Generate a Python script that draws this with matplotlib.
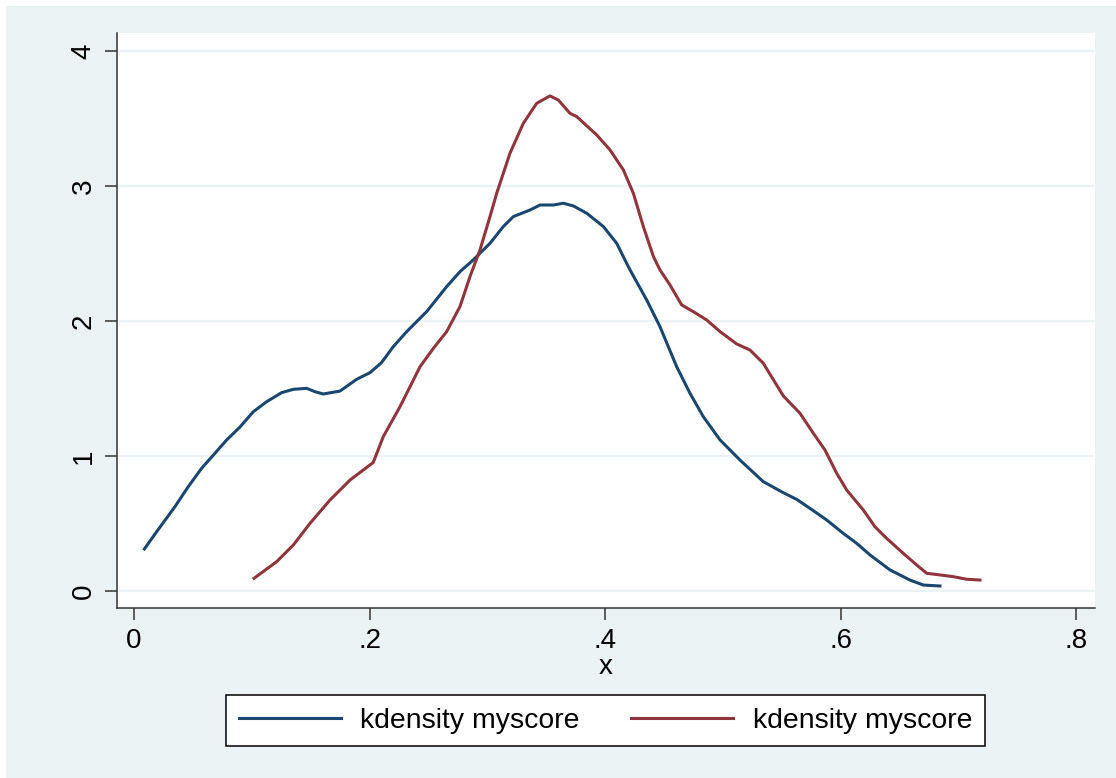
import matplotlib
matplotlib.use("Agg")
import matplotlib.pyplot as plt
from matplotlib.patches import Rectangle

# kdensity estimates (two series, same label)
blue_x = [0.0088, 0.0193, 0.0348, 0.0461, 0.0575, 0.0674, 0.0787, 0.0900, 0.1013, 0.1126,
          0.1253, 0.1353, 0.1466, 0.1537, 0.1607, 0.1749, 0.1890, 0.2003, 0.2100, 0.2201,
          0.2315, 0.2485, 0.2654, 0.2767, 0.2880, 0.3022, 0.3135, 0.3220, 0.3362, 0.3447,
          0.3560, 0.3645, 0.3730, 0.3843, 0.3985, 0.4098, 0.4168, 0.4211, 0.4352, 0.4465,
          0.4607, 0.4720, 0.4833, 0.4975, 0.5144, 0.5342, 0.5512, 0.5625, 0.5767, 0.5880,
          0.6021, 0.6135, 0.6248, 0.6418, 0.6587, 0.6701, 0.6842]
blue_y = [0.311, 0.440, 0.625, 0.773, 0.910, 1.007, 1.119, 1.215, 1.328, 1.402,
          1.469, 1.494, 1.501, 1.476, 1.459, 1.481, 1.568, 1.617, 1.690, 1.810,
          1.921, 2.070, 2.254, 2.365, 2.452, 2.575, 2.699, 2.773, 2.822, 2.859,
          2.859, 2.872, 2.852, 2.798, 2.699, 2.575, 2.452, 2.378, 2.156, 1.958,
          1.661, 1.464, 1.291, 1.119, 0.970, 0.810, 0.728, 0.679, 0.595, 0.526,
          0.427, 0.353, 0.267, 0.156, 0.081, 0.044, 0.037]

red_x = [0.1019, 0.1211, 0.1353, 0.1494, 0.1664, 0.1834, 0.2031, 0.2116, 0.2258, 0.2428,
         0.2541, 0.2654, 0.2767, 0.2852, 0.2937, 0.3022, 0.3079, 0.3192, 0.3305, 0.3418,
         0.3531, 0.3602, 0.3701, 0.3758, 0.3928, 0.4041, 0.4154, 0.4239, 0.4324, 0.4410,
         0.4465, 0.4550, 0.4649, 0.4748, 0.4862, 0.4975, 0.5116, 0.5229, 0.5342, 0.5512,
         0.5654, 0.5767, 0.5866, 0.5965, 0.6050, 0.6191, 0.6290, 0.6389, 0.6530, 0.6644,
         0.6729, 0.6842, 0.6956, 0.7068, 0.7182]
red_y = [0.094, 0.217, 0.341, 0.501, 0.674, 0.822, 0.952, 1.143, 1.365, 1.661,
         1.797, 1.921, 2.106, 2.328, 2.526, 2.773, 2.946, 3.243, 3.464, 3.612,
         3.667, 3.637, 3.538, 3.514, 3.378, 3.267, 3.119, 2.946, 2.699, 2.476,
         2.378, 2.267, 2.119, 2.069, 2.007, 1.921, 1.830, 1.785, 1.687, 1.445,
         1.316, 1.168, 1.044, 0.872, 0.748, 0.600, 0.476, 0.390, 0.279, 0.193,
         0.131, 0.119, 0.106, 0.087, 0.081]

series_label = "kdensity myscore"
x_ticks = [0, 0.2, 0.4, 0.6, 0.8]
x_ticklabels = ["0", ".2", ".4", ".6", ".8"]
y_ticks = [0, 1, 2, 3, 4]

BG = "#EAF2F3"
BLUE = "#1A476F"
RED = "#90353B"
AXC = "#333333"

plt.rcParams["font.family"] = ["Liberation Sans", "DejaVu Sans"]

W, H = 1116, 778
fig = plt.figure(figsize=(W / 100, H / 100), dpi=100, facecolor="white")
fig.patches.append(Rectangle((6 / W, 0), 1, (H - 6) / H, transform=fig.transFigure,
                             facecolor=BG, edgecolor="none", zorder=-10))

ax = fig.add_axes([117 / W, 1 - 608 / H, (1095 - 117) / W, (608 - 33) / H])
ax.set_facecolor("white")

ax.plot(blue_x, blue_y, color=BLUE, linewidth=2.2, label=series_label)
ax.plot(red_x, red_y, color=RED, linewidth=2.2, label=series_label)

ax.set_xlim(-0.01443, 0.8158)
ax.set_ylim(-0.126, 4.133)
ax.set_xticks(x_ticks)
ax.set_xticklabels(x_ticklabels)
ax.set_yticks(y_ticks)
ax.set_yticklabels([str(v) for v in y_ticks], rotation=90, va="center")
ax.tick_params(axis="both", labelsize=20, length=8.5, width=1.1, color=AXC, direction="out")
ax.tick_params(axis="x", pad=6)
ax.tick_params(axis="y", pad=6)
ax.set_xlabel("x", fontsize=20, labelpad=0)

ax.grid(axis="y", color=BG, linewidth=1.6)
ax.set_axisbelow(True)
for side in ["top", "right"]:
    ax.spines[side].set_visible(False)
for side in ["left", "bottom"]:
    ax.spines[side].set_color(AXC)
    ax.spines[side].set_linewidth(1.1)

leg = fig.legend(loc="center", bbox_to_anchor=(605.5 / W, 1 - 720.5 / H), ncol=2,
                 fontsize=20.4, frameon=True, fancybox=False, handlelength=3.6,
                 handletextpad=0.7, columnspacing=1.8, borderpad=0.45,
                 borderaxespad=0)
leg.get_frame().set_edgecolor("black")
leg.get_frame().set_linewidth(1.1)
leg.get_frame().set_facecolor("white")
leg.get_frame().set_alpha(1)

fig.savefig("out.png", dpi=100, facecolor=fig.get_facecolor())
